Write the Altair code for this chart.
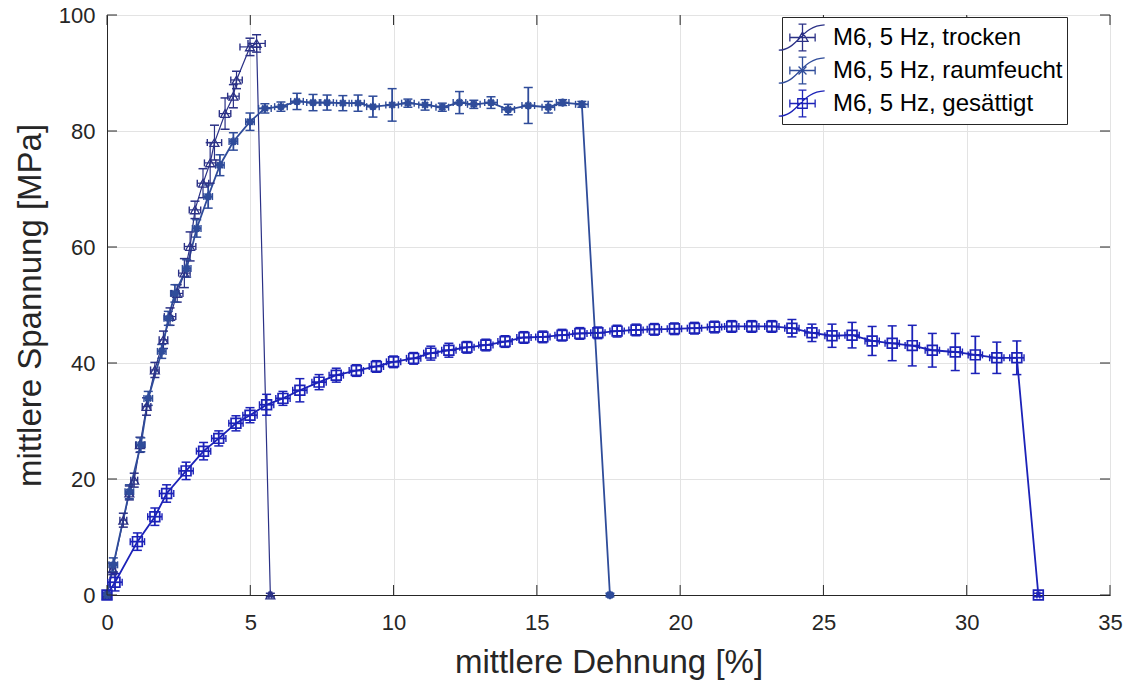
import altair as alt
import pandas as pd

FONT = "Liberation Sans"

series_names = ["M6, 5 Hz, trocken", "M6, 5 Hz, raumfeucht", "M6, 5 Hz, gesättigt"]
series_colors = ["#2b3186", "#2f4c9a", "#1c22b8"]
series_lw = [1.2, 1.8, 1.8]
series_msw = [1.3, 2.2, 1.7]

# --- trocken (triangles)
t_x = [0, 0.2, 0.57, 0.78, 0.95, 1.15, 1.38, 1.67, 1.97, 2.2, 2.45, 2.7, 2.9, 3.07,
       3.35, 3.6, 3.75, 4.12, 4.41, 4.52, 4.99, 5.22, 5.7]
t_y = [0, 4.5, 12.9, 17.6, 19.8, 25.9, 32.5, 38.8, 44.0, 48.0, 52.0, 55.5, 60.1, 66.4,
       71.0, 74.5, 78.0, 83.0, 86.0, 88.8, 94.5, 95.1, 0]
t_ye = [0.3, 1.0, 1.2, 1.2, 1.2, 1.3, 1.5, 1.3, 1.5, 1.5, 1.5, 2.5, 2.5, 1.5,
        2.5, 3.5, 3.0, 2.7, 2.0, 1.5, 1.5, 1.5, 0.3]
t_xe = [0.05, 0.1, 0.12, 0.12, 0.12, 0.15, 0.15, 0.15, 0.15, 0.2, 0.2, 0.2, 0.2, 0.2,
        0.2, 0.2, 0.25, 0.2, 0.2, 0.2, 0.35, 0.3, 0.05]

# --- raumfeucht (asterisks)
r_x = [0, 0.22, 0.78, 1.18, 1.44, 1.91, 2.14, 2.37, 2.78, 3.13, 3.53, 3.94, 4.41, 4.99,
       5.51, 6.07, 6.63, 7.19, 7.68, 8.23, 8.76, 9.28, 9.95, 10.5, 11.1, 11.7, 12.3, 12.8,
       13.4, 14.0, 14.7, 15.4, 15.9, 16.57, 17.55]
r_y = [0, 5.2, 17.8, 25.9, 33.9, 42.0, 47.7, 52.0, 56.3, 63.2, 68.7, 74.1, 78.2, 81.6,
       83.9, 84.2, 85.1, 84.9, 84.9, 84.8, 84.8, 84.2, 84.5, 84.8, 84.5, 84.1, 84.9, 84.6,
       84.9, 83.7, 84.4, 84.1, 84.9, 84.6, 0]
r_ye = [0.3, 1.2, 1.2, 1.2, 1.2, 1.2, 1.2, 1.5, 1.5, 1.5, 2.0, 1.8, 1.5, 1.5,
        0.8, 0.8, 1.4, 1.4, 1.3, 1.3, 1.4, 1.8, 2.8, 0.7, 0.9, 0.7, 1.9, 0.7,
        1.0, 0.9, 3.1, 1.0, 0.5, 0.5, 0.3]
r_xe = [0.05] + [0.15] * 13 + [0.22] * 20 + [0.05]

# --- gesättigt (squares)
g_x = [0, 0.28, 1.06, 1.67, 2.08, 2.76, 3.37, 3.9, 4.5, 4.99, 5.57, 6.14, 6.73, 7.4, 8.0,
       8.7, 9.4, 10.0, 10.7, 11.3, 11.93, 12.56, 13.22, 13.89, 14.55, 15.21, 15.88, 16.5,
       17.13, 17.8, 18.46, 19.1, 19.8, 20.5, 21.2, 21.8, 22.5, 23.2, 23.9, 24.6, 25.3, 26.0,
       26.7, 27.4, 28.1, 28.8, 29.6, 30.3, 31.05, 31.75, 32.5]
g_y = [0, 2.2, 9.2, 13.5, 17.5, 21.4, 24.8, 27.0, 29.6, 31.0, 32.8, 33.9, 35.3, 36.7, 37.9,
       38.7, 39.4, 40.2, 40.8, 41.7, 42.2, 42.7, 43.1, 43.7, 44.4, 44.5, 44.8, 45.1,
       45.2, 45.5, 45.7, 45.8, 45.9, 46.0, 46.2, 46.3, 46.3, 46.3, 46.0, 45.2, 44.7, 44.8,
       43.8, 43.4, 43.0, 42.2, 41.9, 41.4, 40.9, 40.9, 0]
g_ye = [0.5, 1.5, 1.5, 1.5, 1.5, 1.5, 1.5, 1.3, 1.3, 1.3, 1.8, 1.2, 2.0, 1.3, 1.2,
        1.0, 1.0, 1.0, 1.0, 1.2, 1.2, 1.0, 1.0, 1.0, 1.0, 1.0, 1.0, 1.0,
        1.0, 1.0, 1.0, 1.0, 1.0, 1.0, 1.0, 1.0, 1.0, 1.0, 1.5, 1.5, 2.0, 2.2,
        2.5, 3.0, 3.5, 2.9, 3.2, 3.2, 2.7, 2.9, 0.3]
g_xe = [0.05] + [0.25] * 49 + [0.05]

x_ticks = [0, 5, 10, 15, 20, 25, 30, 35]
y_ticks = [0, 20, 40, 60, 80, 100]

ASTERISK = "M-1,0L1,0M0,-1L0,1M-0.7,-0.7L0.7,0.7M-0.7,0.7L0.7,-0.7"
marker_shapes = ["triangle-up", ASTERISK, "square"]
marker_sizes = [80, 70, 95]

# legend glyphs (MATLAB-like errorbar icon)
_base = ("M-1.5,0.8C-0.3,0.8-0.1,-0.75,1.4,-0.8"
         "M0,-0.85L0,0.85M-0.25,-0.85L0.25,-0.85M-0.25,0.85L0.25,0.85"
         "M-0.8,0L0.8,0M-0.8,-0.25L-0.8,0.25M0.8,-0.25L0.8,0.25")
legend_glyphs = [
    _base + "M0,-0.35L0.35,0.25L-0.35,0.25Z",
    _base + "M-0.35,0L0.35,0M0,-0.35L0,0.35M-0.25,-0.25L0.25,0.25M-0.25,0.25L0.25,-0.25",
    _base + "M-0.3,-0.3L0.3,-0.3L0.3,0.3L-0.3,0.3Z",
]

rows = []
for s, (xs_, ys_, yes, xes) in enumerate([(t_x, t_y, t_ye, t_xe), (r_x, r_y, r_ye, r_xe),
                                           (g_x, g_y, g_ye, g_xe)]):
    for i, (xv, yv, ye, xe) in enumerate(zip(xs_, ys_, yes, xes)):
        rows.append({
            "series": series_names[s], "i": i, "x": xv, "y": yv,
            "ylo": yv - ye, "yhi": yv + ye, "xlo": xv - xe, "xhi": xv + xe,
            "col": series_colors[s], "mk": marker_shapes[s], "sz": marker_sizes[s],
            "lw": series_lw[s], "msw": series_msw[s],
        })
df = pd.DataFrame(rows)

xs = alt.Scale(domain=[0, 35], nice=False, zero=False)
ys = alt.Scale(domain=[0, 100], nice=False, zero=False)
x_axis = alt.Axis(values=x_ticks, grid=True, ticks=False, labelPadding=17, labelFlush=False,
                  titleY=77, titleBaseline="alphabetic")
y_axis = alt.Axis(values=y_ticks, grid=True, ticks=False, labelPadding=12, labelFlush=False,
                  titleX=-67, titleBaseline="alphabetic")
X_TITLE = "mittlere Dehnung [%]"
Y_TITLE = "mittlere Spannung [MPa]"


def X(field):
    return alt.X(field, scale=xs, axis=x_axis, title=X_TITLE)


def Y(field):
    return alt.Y(field, scale=ys, axis=y_axis, title=Y_TITLE)


COL = alt.Color("col:N", scale=None)
LW = alt.StrokeWidth("lw:Q", scale=None)
base = alt.Chart(df)

lines = base.mark_line().encode(
    x=X("x:Q"), y=Y("y:Q"), color=COL, strokeWidth=LW, detail="series:N", order="i:Q")

yerr = base.mark_rule().encode(
    x=X("x:Q"), y=Y("ylo:Q"), y2="yhi:Q", color=COL, strokeWidth=LW)
ycap_lo = base.mark_tick(orient="horizontal", size=9, thickness=1.5, opacity=1).encode(
    x=X("x:Q"), y=Y("ylo:Q"), color=COL)
ycap_hi = base.mark_tick(orient="horizontal", size=9, thickness=1.5, opacity=1).encode(
    x=X("x:Q"), y=Y("yhi:Q"), color=COL)

xerr = base.mark_rule().encode(
    x=X("xlo:Q"), x2="xhi:Q", y=Y("y:Q"), color=COL, strokeWidth=LW)
xcap_lo = base.mark_tick(orient="vertical", size=7, thickness=1.4, opacity=1).encode(
    x=X("xlo:Q"), y=Y("y:Q"), color=COL)
xcap_hi = base.mark_tick(orient="vertical", size=7, thickness=1.4, opacity=1).encode(
    x=X("xhi:Q"), y=Y("y:Q"), color=COL)

points = base.mark_point(filled=False, opacity=1).encode(
    x=X("x:Q"), y=Y("y:Q"),
    color=COL, shape=alt.Shape("mk:N", scale=None), size=alt.Size("sz:Q", scale=None),
    strokeWidth=alt.StrokeWidth("msw:Q", scale=None))

legend_layer = base.transform_filter("false").mark_point(filled=False, opacity=1).encode(
    x=X("x:Q"), y=Y("y:Q"),
    color=alt.Color("series:N", scale=alt.Scale(domain=series_names, range=series_colors),
                    title=None),
    shape=alt.Shape("series:N", scale=alt.Scale(domain=series_names, range=legend_glyphs),
                    title=None),
)

# inward tick marks (MATLAB box style)
xt = alt.Chart(pd.DataFrame({"t": x_ticks}))
yt = alt.Chart(pd.DataFrame({"t": y_ticks}))
tick_style = dict(color="#262626", strokeWidth=1)
xt_bottom = xt.mark_rule(**tick_style).encode(
    x=X("t:Q"), y=alt.value(580), y2=alt.value(570))
xt_top = xt.mark_rule(**tick_style).encode(
    x=X("t:Q"), y=alt.value(0), y2=alt.value(10))
yt_left = yt.mark_rule(**tick_style).encode(
    y=Y("t:Q"), x=alt.value(0), x2=alt.value(10))
yt_right = yt.mark_rule(**tick_style).encode(
    y=Y("t:Q"), x=alt.value(1003), x2=alt.value(993))

chart = alt.layer(
    lines, yerr, ycap_lo, ycap_hi, xerr, xcap_lo, xcap_hi, points,
    xt_bottom, xt_top, yt_left, yt_right, legend_layer,
).properties(
    width=1003, height=580,
    autosize=alt.AutoSizeParams(type="none"),
    padding={"left": 107, "top": 15, "right": 21, "bottom": 86},
    background="white",
).configure_view(
    stroke="#262626", strokeWidth=1,
).configure_axis(
    labelFont=FONT, labelFontSize=22, labelColor="#262626",
    titleFont=FONT, titleFontSize=33, titleColor="#262626", titleFontWeight="normal",
    domainColor="#262626", domainWidth=1,
    gridColor="#e3e3e3", gridWidth=1,
).configure_legend(
    orient="none", legendX=675, legendY=2,
    fillColor="white", strokeColor="#262626", padding=4,
    labelFont=FONT, labelFontSize=24, labelColor="#000000", labelLimit=400,
    labelOffset=14, rowPadding=0,
    symbolSize=1000, symbolStrokeWidth=1.3, symbolFillColor="transparent",
)

chart.save("out.html", embed_options={"renderer": "svg", "actions": False})
